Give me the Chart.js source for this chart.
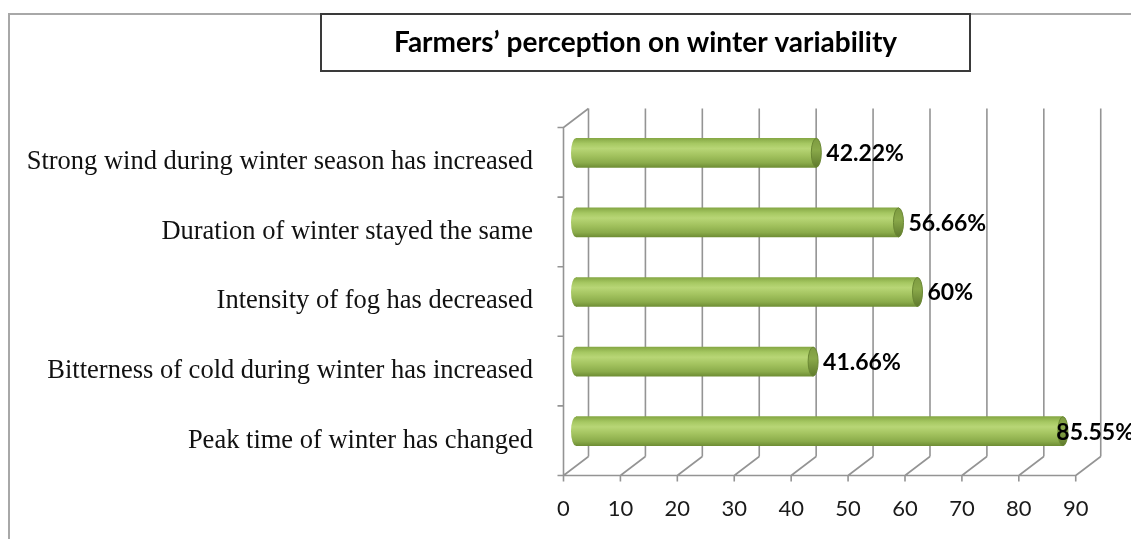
<!DOCTYPE html>
<html>
<head>
<meta charset="utf-8">
<script src="https://cdn.jsdelivr.net/npm/chart.js@4"></script>
<style>
  html, body { margin: 0; padding: 0; background: #fff; }
  #wrap { width: 1131px; height: 539px; position: relative; }
</style>
</head>
<body>
<div id="wrap"><canvas id="chart" width="1131" height="539"></canvas></div>
<script>
// Data
const categories = [
    "Strong wind during winter season has increased",
    "Duration of winter stayed the same",
    "Intensity of fog has decreased",
    "Bitterness of cold during winter has increased",
    "Peak time of winter has changed"
];
const values = [42.22, 56.66, 60, 41.66, 85.55];
const valueLabels = ["42.22%", "56.66%", "60%", "41.66%", "85.55%"];
const titleText = "Farmers\u2019 perception on winter variability";

// half of the 3D depth offset (front plane -> middle -> back wall)
const DX = 12.5;
const DY = 9.5;
const gridColor = "#949494";

// vertical shading of the cylinder body
const bodyGradient = function(c, y, h) {
    const g = c.createLinearGradient(0, y - h, 0, y + h);
    g.addColorStop(0, '#86a845');
    g.addColorStop(0.18, '#a6c862');
    g.addColorStop(0.35, '#b8d676');
    g.addColorStop(0.6, '#a2c25e');
    g.addColorStop(0.85, '#8aab4a');
    g.addColorStop(1, '#6f8e35');
    return g;
};

/**
 * Outer frame and boxed title
 */
const framePlugin = {
    id: 'frame',
    beforeDraw(chart) {
        const c = chart.ctx;
        c.save();
        c.fillStyle = '#fff';
        c.fillRect(0, 0, chart.width, chart.height);

        // outer chart border (top + left visible)
        c.strokeStyle = '#a8a8a8';
        c.lineWidth = 2;
        c.beginPath();
        c.moveTo(9, chart.height);
        c.lineTo(9, 14);
        c.lineTo(chart.width, 14);
        c.stroke();

        // title box
        c.fillStyle = '#fff';
        c.fillRect(321, 14, 649, 57);
        c.strokeStyle = '#3a3a3a';
        c.strokeRect(321, 14, 649, 57);
        c.fillStyle = '#000';
        c.font = 'bold 28px Lato';
        c.textAlign = 'center';
        c.textBaseline = 'middle';
        c.fillText(titleText, 645.5, 43);
        c.restore();
    }
};

/**
 * Fake 3D walls: back gridlines, floor, left side
 */
const wallsPlugin = {
    id: 'walls',
    beforeDatasetsDraw(chart) {
        const c = chart.ctx;
        const xs = chart.scales.x;
        const {top, bottom} = chart.chartArea;
        const x0 = xs.getPixelForValue(0);
        const x90 = xs.getPixelForValue(90);

        c.save();
        c.strokeStyle = gridColor;
        c.lineWidth = 1.6;
        c.beginPath();
        xs.ticks.forEach(t => {
            const x = xs.getPixelForValue(t.value);
            // back wall gridline
            c.moveTo(x + DX, top - DY);
            c.lineTo(x + DX, bottom - DY);
            // floor diagonal
            c.moveTo(x - DX, bottom + DY);
            c.lineTo(x + DX, bottom - DY);
            // front tick mark
            c.moveTo(x - DX, bottom + DY);
            c.lineTo(x - DX, bottom + DY + 6);
        });
        // front edge of floor
        c.moveTo(x0 - DX, bottom + DY);
        c.lineTo(x90 - DX, bottom + DY);
        // left side
        c.moveTo(x0 - DX, bottom + DY);
        c.lineTo(x0 - DX, top + DY);
        c.lineTo(x0 + DX, top - DY);
        // category ticks
        const step = (bottom - top) / categories.length;
        for (let i = 0; i <= categories.length; i++) {
            const y = top + i * step + DY;
            c.moveTo(x0 - DX - 6, y);
            c.lineTo(x0 - DX, y);
        }
        c.stroke();
        c.restore();
    },

    afterDatasetsDraw(chart) {
        const c = chart.ctx;
        const meta = chart.getDatasetMeta(0);
        c.save();
        meta.data.forEach((bar, i) => {
            const h = bar.height / 2;

            // rounded far end of the cylinder
            c.fillStyle = bodyGradient(c, bar.y, h);
            c.beginPath();
            c.ellipse(bar.base, bar.y, 5, h, 0, 0, Math.PI * 2);
            c.fill();

            // cylinder end cap
            const g = c.createLinearGradient(0, bar.y - h, 0, bar.y + h);
            g.addColorStop(0, '#7d9b40');
            g.addColorStop(0.4, '#8aa94a');
            g.addColorStop(1, '#5f7a2c');
            c.fillStyle = g;
            c.strokeStyle = '#6a8733';
            c.lineWidth = 1;
            c.beginPath();
            c.ellipse(bar.x, bar.y, 5, h, 0, 0, Math.PI * 2);
            c.fill();
            c.stroke();

            // value label
            c.font = 'bold 23px Lato';
            c.fillStyle = '#000';
            c.textAlign = 'left';
            c.textBaseline = 'middle';
            const w = c.measureText(valueLabels[i]).width;
            const lx = Math.min(bar.x + 10, chart.width + 3 - w);
            c.fillText(valueLabels[i], lx, bar.y + 1);
        });
        c.restore();
    }
};

const barFill = function(context) {
    const chart = context.chart;
    if (!chart.chartArea) return '#9bbb59';
    const y = chart.scales.y.getPixelForValue(context.dataIndex);
    return bodyGradient(chart.ctx, y, 14.5);
};

const ctx = document.getElementById('chart');

new Chart(ctx, {
    type: 'bar',
    data: {
        labels: categories,
        datasets: [
            {
                data: values,
                backgroundColor: barFill,
                borderWidth: 0,
                borderSkipped: false,
                borderRadius: 0,
                barThickness: 29
            }
        ]
    },
    options: {
        indexAxis: 'y',
        responsive: false,
        animation: false,
        layout: {
            padding: {top: 118, right: 42, bottom: 0, left: 0}
        },

        //Scales
        scales: {
            x: {
                min: 0,
                max: 90,
                grid: {display: false, drawTicks: false},
                border: {display: false},
                ticks: {
                    stepSize: 10,
                    labelOffset: -DX,
                    padding: 30,
                    color: '#1a1a1a',
                    font: {family: 'Lato', size: 22}
                },
                afterFit(scale) { scale.height = 73; }
            },
            y: {
                grid: {display: false, drawTicks: false},
                border: {display: false},
                ticks: {
                    padding: 43,
                    labelOffset: DY,
                    color: '#111',
                    font: {family: 'Liberation Serif', size: 26.5}
                },
                afterFit(scale) { scale.width = 576; }
            }
        },

        plugins: {
            legend: false,
            tooltip: {enabled: false},
            title: {display: false}
        }
    },
    plugins: [framePlugin, wallsPlugin]
});
</script>
</body>
</html>
